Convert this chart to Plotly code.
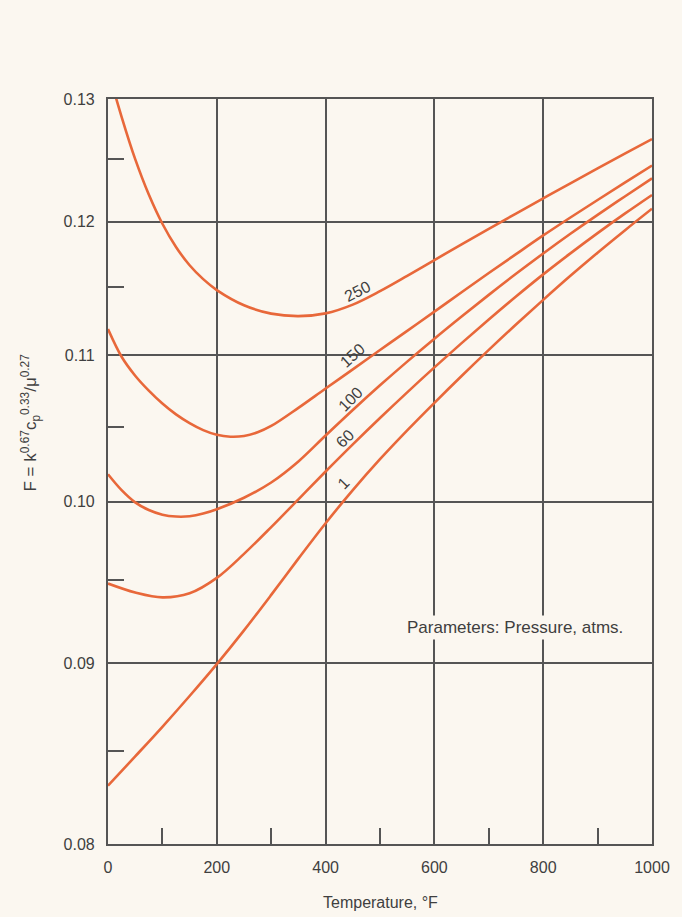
import math
import plotly.graph_objects as go

# Temperature (°F) and F = k^0.67 cp^0.33 / mu^0.27 for each pressure (atm)
t_250 = [0, 25, 50, 75, 100, 125, 150, 175, 200, 250, 300, 350, 400, 450, 500,
         550, 600, 650, 700, 750, 800, 850, 900, 950, 1000]
f_250 = [0.13250, 0.12850, 0.12500, 0.12215, 0.11985, 0.11805, 0.11665, 0.11560,
         0.11478, 0.11365, 0.11303, 0.11285, 0.11305, 0.11370, 0.11470, 0.11585,
         0.11705, 0.11825, 0.11945, 0.12065, 0.12185, 0.12305, 0.12425, 0.12545,
         0.12665]

t_150 = [0, 25, 50, 75, 100, 125, 150, 175, 200, 225, 250, 275, 300, 350, 400,
         450, 500, 550, 600, 650, 700, 750, 800, 850, 900, 950, 1000]
f_150 = [0.11190, 0.10990, 0.10855, 0.10750, 0.10660, 0.10585, 0.10525, 0.10477,
         0.10445, 0.10432, 0.10437, 0.10462, 0.10505, 0.10630, 0.10765, 0.10900,
         0.11038, 0.11177, 0.11318, 0.11462, 0.11606, 0.11750, 0.11894, 0.12034,
         0.12172, 0.12310, 0.12448]

t_100 = [0, 25, 50, 75, 100, 125, 150, 175, 200, 250, 300, 350, 400, 450, 500,
         550, 600, 650, 700, 750, 800, 850, 900, 950, 1000]
f_100 = [0.10180, 0.10075, 0.09995, 0.09945, 0.09915, 0.09903, 0.09905, 0.09922,
         0.09950, 0.10025, 0.10125, 0.10265, 0.10440, 0.10615, 0.10787, 0.10955,
         0.11120, 0.11282, 0.11442, 0.11600, 0.11755, 0.11907, 0.12055, 0.12200,
         0.12345]

t_60 = [0, 50, 100, 150, 200, 250, 300, 350, 400, 450, 500, 550, 600, 650, 700,
        750, 800, 850, 900, 950, 1000]
f_60 = [0.09480, 0.09425, 0.09395, 0.09420, 0.09515, 0.09665, 0.09835, 0.10015,
        0.10198, 0.10380, 0.10560, 0.10738, 0.10914, 0.11088, 0.11260, 0.11430,
        0.11596, 0.11756, 0.11912, 0.12064, 0.12212]

t_1 = [0, 50, 100, 150, 200, 250, 300, 350, 400, 450, 500, 550, 600, 650, 700,
       750, 800, 850, 900, 950, 1000]
f_1 = [0.08310, 0.08470, 0.08635, 0.08810, 0.08995, 0.09195, 0.09410, 0.09635,
       0.09860, 0.10075, 0.10280, 0.10475, 0.10665, 0.10853, 0.11039, 0.11223,
       0.11405, 0.11585, 0.11761, 0.11933, 0.12103]

pressure_labels = ["250", "150", "100", "60", "1"]

x_ticks = [0, 200, 400, 600, 800, 1000]
x_minor = [100, 300, 500, 700, 900]
y_ticks = [0.08, 0.09, 0.10, 0.11, 0.12, 0.13]
y_tick_text = ["0.08", "0.09", "0.10", "0.11", "0.12", "0.13"]
y_minor = [0.085, 0.095, 0.105, 0.115, 0.125]

PAPER = "#fbf7f0"
INK = "#3f3f3f"
GRID = "#555555"
CURVE = "#e8683a"
FONT = "Liberation Sans, Arial, sans-serif"

fig = go.Figure()
for t, f in [(t_250, f_250), (t_150, f_150), (t_100, f_100), (t_60, f_60), (t_1, f_1)]:
    fig.add_trace(go.Scatter(
        x=t, y=f, mode="lines",
        line=dict(color=CURVE, width=2.6, shape="spline", smoothing=1.0),
        hoverinfo="skip", showlegend=False,
    ))

# curve labels, written along each line (annotation y is in log10 units on a log axis)
label_place = [
    (458, 0.1147, -27),
    (449, 0.1100, -42),
    (445, 0.1069, -45),
    (436, 0.1042, -45),
    (432, 0.1012, -45),
]
for text, (lx, ly, ang) in zip(pressure_labels, label_place):
    fig.add_annotation(x=lx, y=math.log10(ly), xref="x", yref="y", text=text,
                       showarrow=False, textangle=ang,
                       font=dict(family=FONT, size=16, color=INK))

fig.add_annotation(x=748, y=math.log10(0.0921), xref="x", yref="y",
                   text="Parameters: Pressure, atms.", showarrow=False,
                   bgcolor=PAPER, borderpad=2,
                   font=dict(family=FONT, size=17, color=INK))

fig.add_annotation(x=0.5, y=-0.079, xref="paper", yref="paper",
                   xanchor="center", yanchor="middle",
                   text="Temperature, °F", showarrow=False,
                   font=dict(family=FONT, size=16, color=INK))

fig.add_annotation(x=-0.143, y=0.566, xref="paper", yref="paper",
                   xanchor="center", yanchor="middle",
                   text="F = k<sup>0.67</sup>c<sub>p</sub><sup>0.33</sup>/μ<sup>0.27</sup>",
                   textangle=-90, showarrow=False,
                   font=dict(family=FONT, size=17, color=INK))

fig.update_layout(
    width=682, height=917, autosize=False,
    margin=dict(l=108, r=30, t=99, b=73),
    paper_bgcolor=PAPER, plot_bgcolor=PAPER,
    showlegend=False,
    font=dict(family=FONT, size=16, color=INK),
)

fig.update_xaxes(
    range=[0, 1000], tickvals=x_ticks, ticks="", ticklabelstandoff=8,
    showgrid=True, gridcolor=GRID, gridwidth=1.5,
    showline=True, linecolor=GRID, linewidth=2.2, mirror=True, zeroline=False,
    tickfont=dict(family=FONT, size=16, color=INK),
    minor=dict(tickvals=x_minor, ticks="inside", ticklen=16, tickwidth=2,
               tickcolor=GRID, showgrid=False),
)

fig.update_yaxes(
    type="log", range=[math.log10(0.08), math.log10(0.13)],
    tickvals=y_ticks, ticktext=y_tick_text, ticks="", ticklabelstandoff=8,
    showgrid=True, gridcolor=GRID, gridwidth=1.5,
    showline=True, linecolor=GRID, linewidth=2.2, mirror=True, zeroline=False,
    tickfont=dict(family=FONT, size=16, color=INK),
    minor=dict(tickvals=y_minor, ticks="inside", ticklen=16, tickwidth=2,
               tickcolor=GRID, showgrid=False),
)

fig.write_html("out.html")
